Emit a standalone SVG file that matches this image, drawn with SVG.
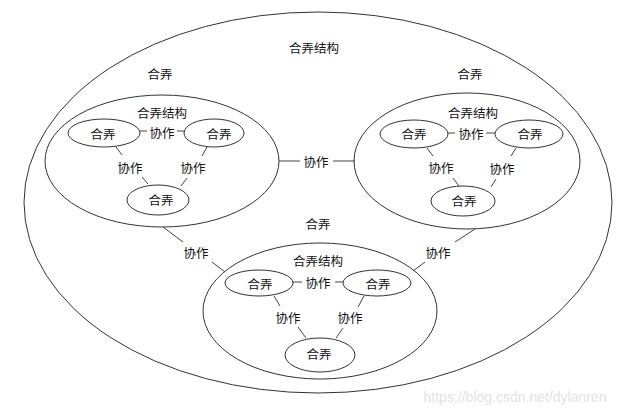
<svg xmlns="http://www.w3.org/2000/svg" width="628" height="414" viewBox="0 0 628 414">
<style>
.sh{fill:none;stroke:#333;stroke-width:1}
.t{font-family:"Noto Sans CJK SC","Noto Sans",sans-serif;font-size:12.5px;fill:#111;text-anchor:middle;dominant-baseline:central}
.c{stroke:#444;stroke-width:1;fill:none}
.wm{font-family:"Liberation Sans",Arial,sans-serif;font-size:14px;fill:#e2e2e2;text-anchor:middle;dominant-baseline:central}
</style>
<rect width="628" height="414" fill="#fff"/>
<g id="outer">
<ellipse class="sh" cx="318" cy="202.5" rx="294" ry="190.5"/>
<text class="t" x="314" y="47">合弄结构</text>
</g>
<g id="left-group">
<ellipse class="sh" cx="162" cy="161" rx="117" ry="66"/>
<text class="t" x="160" y="73">合弄</text>
<text class="t" x="162" y="112">合弄结构</text>
</g>
<g id="left-a"><ellipse class="sh" cx="104" cy="133" rx="36" ry="14"/><text class="t" x="103" y="133">合弄</text></g>
<g id="left-b"><ellipse class="sh" cx="214" cy="133" rx="30" ry="14"/><text class="t" x="219" y="133">合弄</text></g>
<g id="left-c"><ellipse class="sh" cx="158" cy="200" rx="31" ry="15"/><text class="t" x="161" y="199">合弄</text></g>
<g id="right-group">
<ellipse class="sh" cx="467" cy="161" rx="113" ry="68"/>
<text class="t" x="470" y="73">合弄</text>
<text class="t" x="473" y="112">合弄结构</text>
</g>
<g id="right-a"><ellipse class="sh" cx="414" cy="134" rx="34" ry="14"/><text class="t" x="414" y="133">合弄</text></g>
<g id="right-b"><ellipse class="sh" cx="529" cy="134" rx="34" ry="14"/><text class="t" x="530" y="133">合弄</text></g>
<g id="right-c"><ellipse class="sh" cx="463" cy="201" rx="32" ry="15"/><text class="t" x="464" y="200">合弄</text></g>
<g id="bottom-group">
<ellipse class="sh" cx="320" cy="311" rx="117" ry="68"/>
<text class="t" x="318" y="223">合弄</text>
<text class="t" x="318" y="260">合弄结构</text>
</g>
<g id="bottom-a"><ellipse class="sh" cx="259" cy="283" rx="34" ry="13"/><text class="t" x="260" y="283">合弄</text></g>
<g id="bottom-b"><ellipse class="sh" cx="377" cy="283" rx="34" ry="13"/><text class="t" x="378" y="283">合弄</text></g>
<g id="bottom-c"><ellipse class="sh" cx="320" cy="355" rx="35" ry="17"/><text class="t" x="319" y="353">合弄</text></g>
<g id="connectors">
<line class="c" x1="140" y1="131" x2="147" y2="131"/><line class="c" x1="177" y1="131" x2="185" y2="131"/>
<text class="t" x="162" y="132">协作</text>
<line class="c" x1="116" y1="147" x2="122" y2="155"/><line class="c" x1="142" y1="177" x2="148" y2="184"/>
<text class="t" x="130" y="167">协作</text>
<line class="c" x1="207" y1="147" x2="202" y2="156"/><line class="c" x1="187" y1="178" x2="181" y2="186"/>
<text class="t" x="193" y="167">协作</text>
<line class="c" x1="448" y1="133" x2="455" y2="133"/><line class="c" x1="486" y1="133" x2="495" y2="133"/>
<text class="t" x="471" y="133">协作</text>
<line class="c" x1="427" y1="148" x2="433" y2="156"/><line class="c" x1="453" y1="178" x2="459" y2="186"/>
<text class="t" x="441" y="167">协作</text>
<line class="c" x1="516" y1="148" x2="511" y2="156"/><line class="c" x1="496" y1="179" x2="491" y2="187"/>
<text class="t" x="502" y="168">协作</text>
<line class="c" x1="293" y1="282" x2="302" y2="282"/><line class="c" x1="335" y1="282" x2="343" y2="282"/>
<text class="t" x="318" y="282">协作</text>
<line class="c" x1="274" y1="296" x2="280" y2="306"/><line class="c" x1="298" y1="327" x2="306" y2="338"/>
<text class="t" x="288" y="317">协作</text>
<line class="c" x1="364" y1="296" x2="358" y2="307"/><line class="c" x1="343" y1="328" x2="336" y2="338"/>
<text class="t" x="350" y="317">协作</text>
<line class="c" x1="279" y1="161" x2="300" y2="161"/><line class="c" x1="333" y1="161" x2="355" y2="161"/>
<text class="t" x="316" y="161">协作</text>
<line class="c" x1="163" y1="227" x2="183" y2="242"/><line class="c" x1="212" y1="262" x2="225" y2="272"/>
<text class="t" x="196" y="252">协作</text>
<line class="c" x1="475" y1="229" x2="455" y2="242"/><line class="c" x1="425" y1="262" x2="413" y2="271"/>
<text class="t" x="438" y="252">协作</text>
</g>
<text class="wm" x="515" y="397">https://blog.csdn.net/dylanren</text>
</svg>
